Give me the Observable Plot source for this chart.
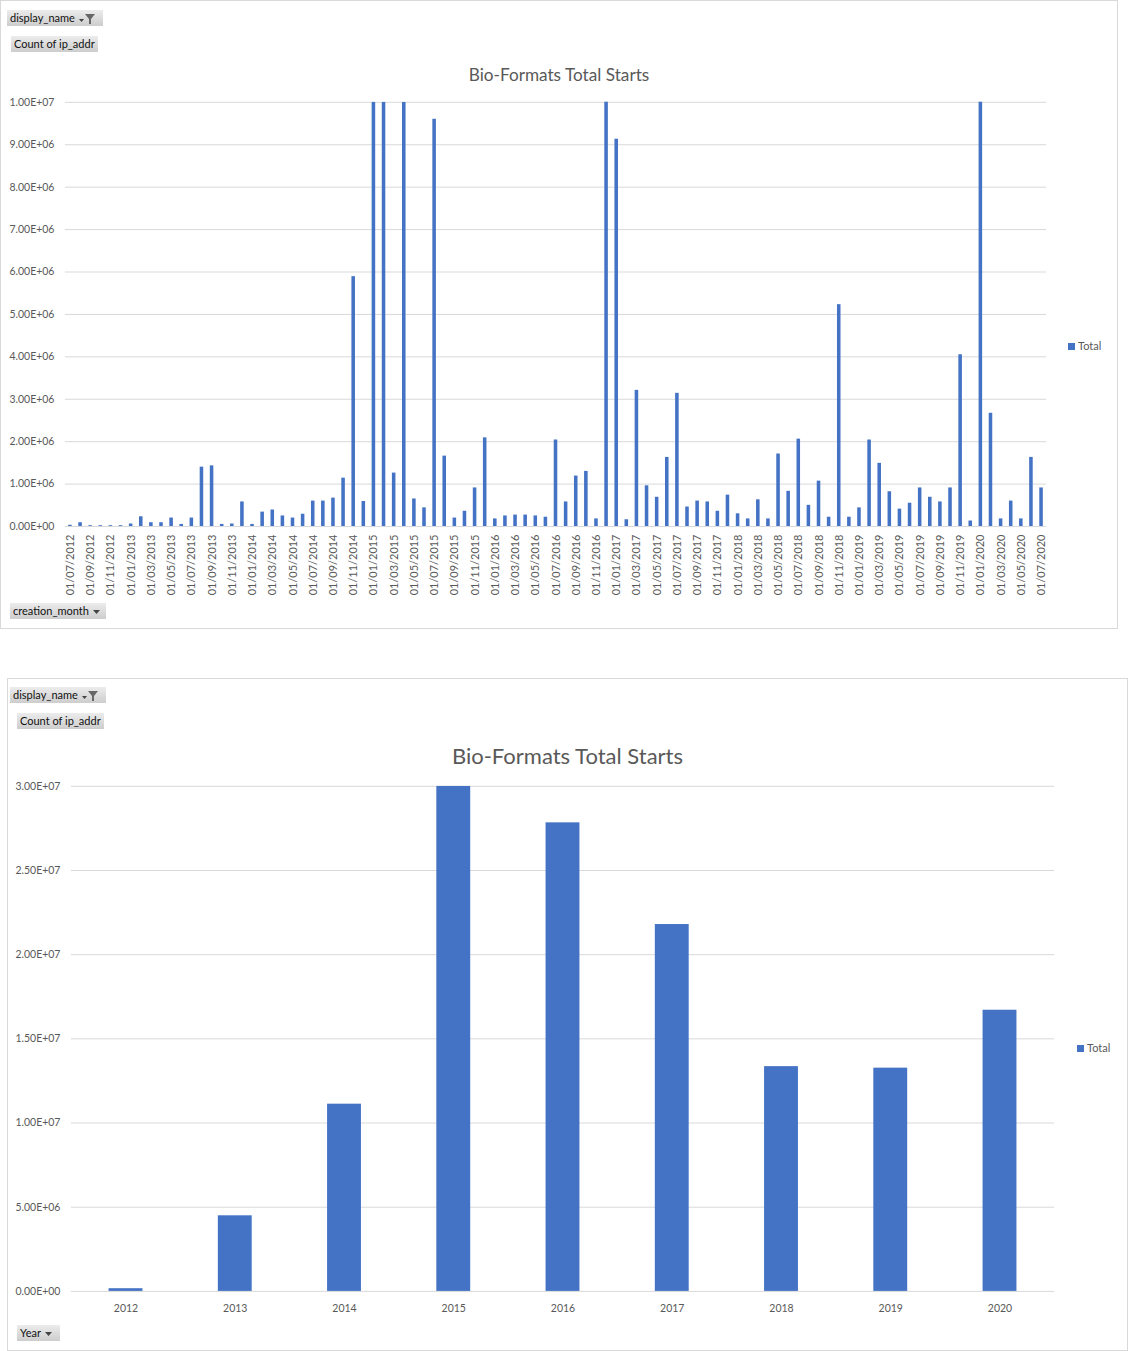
<!DOCTYPE html>
<html>
<head>
<meta charset="utf-8">
<script src="https://cdn.jsdelivr.net/npm/d3@7"></script>
<script src="https://cdn.jsdelivr.net/npm/@observablehq/plot@0.6"></script>
<style>
  html, body { margin: 0; padding: 0; background: #fff; }
  body { width: 1128px; height: 1351px; position: relative; font-family: Lato, "Liberation Sans", sans-serif; }
  .box { position: absolute; border: 1px solid #d9d9d9; box-sizing: border-box; background: #fff; }
  .box svg { position: absolute; left: -1px; top: -1px; }
  .btn { position: absolute; height: 16px; line-height: 16px; font-size: 11px; color: #111;
         background: linear-gradient(#ececec, #cdcdcd); padding: 0 3px; box-sizing: border-box; white-space: nowrap; }
  .btn svg { position: static !important; vertical-align: middle; }
  .title { position: absolute; left: 0; right: 0; text-align: center; color: #595959; }
  .legend { position: absolute; font-size: 11px; color: #595959; line-height: 12px; }
  .legend span.sw { display: inline-block; width: 7px; height: 7px; background: #4472C4; margin-right: 3px; vertical-align: 0px; }
</style>
</head>
<body>
<div id="top" class="box" style="left:0;top:0;width:1118px;height:629px;"></div>
<div id="bottom" class="box" style="left:7px;top:678px;width:1121px;height:673px;"></div>
<script>
// ---- Data ----
const seriesName = "Total";
const chartTitle = "Bio-Formats Total Starts";
const startYear = 2012, startMonth = 7, monthCount = 97;   // 01/07/2012 .. 01/07/2020

// monthly counts (millions); bars above 1.00E+07 are clipped in the picture
const m2012 = [0.03, 0.09, 0.02, 0.02, 0.02, 0.02];
const m2013 = [0.06, 0.23, 0.09, 0.09, 0.20, 0.05, 0.20, 1.40, 1.43, 0.05, 0.06, 0.58];
const m2014 = [0.05, 0.34, 0.39, 0.25, 0.20, 0.29, 0.60, 0.60, 0.67, 1.14, 5.89, 0.59];
const m2015 = [10.0, 10.0, 1.26, 10.0, 0.65, 0.44, 9.60, 1.66, 0.20, 0.36, 0.91, 2.09];
const m2016 = [0.18, 0.25, 0.27, 0.27, 0.25, 0.22, 2.04, 0.58, 1.19, 1.30, 0.18, 21.1];
const m2017 = [9.13, 0.16, 3.21, 0.96, 0.69, 1.63, 3.14, 0.46, 0.60, 0.58, 0.36, 0.74];
const m2018 = [0.30, 0.18, 0.63, 0.18, 1.71, 0.83, 2.06, 0.50, 1.07, 0.22, 5.23, 0.22];
const m2019 = [0.44, 2.04, 1.49, 0.82, 0.41, 0.55, 0.91, 0.69, 0.58, 0.91, 4.05, 0.13];
const m2020 = [10.4, 2.67, 0.18, 0.60, 0.18, 1.63, 0.91];

// yearly totals (millions); 2015 reaches the top of the axis
const years = ["2012", "2013", "2014", "2015", "2016", "2017", "2018", "2019", "2020"];
const yearTotals = [0.16, 4.49, 11.12, 30.0, 27.83, 21.79, 13.35, 13.26, 16.7];

// ---- Build tables ----
const monthValues = [].concat(m2012, m2013, m2014, m2015, m2016, m2017, m2018, m2019, m2020);
const monthLabels = [];
for (let i = 0; i < monthCount; i++) {
  const t = (startMonth - 1) + i;
  const y = startYear + Math.floor(t / 12), m = (t % 12) + 1;
  monthLabels.push("01/" + String(m).padStart(2, "0") + "/" + y);
}
const monthData = monthLabels.map((label, i) => ({label, value: monthValues[i] * 1e6}));
const yearData = years.map((year, i) => ({year, value: yearTotals[i] * 1e6}));

const fmtE = v => {
  const [m, e] = v.toExponential(2).split("e");
  const n = +e;
  return m.toUpperCase() + "E" + (n < 0 ? "-" : "+") + String(Math.abs(n)).padStart(2, "0");
};
const blue = "#4472C4", grid = "#d9d9d9", txt = "#595959";
const axisStyle = {fontFamily: "Lato, 'Liberation Sans', sans-serif", fontSize: "10.5px", color: txt, background: "transparent", overflow: "visible"};

// ---- Top chart: monthly ----
const yTicksTop = d3.range(0, 1e7 + 1, 1e6);
const topPlot = Plot.plot({
  width: 1118, height: 629,
  marginLeft: 65, marginRight: 70, marginTop: 102, marginBottom: 102,
  style: axisStyle,
  x: {domain: monthLabels, round: false, paddingInner: 0.65, paddingOuter: 0.325, label: null, tickSize: 0, tickRotate: -90,
      ticks: monthLabels.filter((d, i) => i % 2 === 0), tickPadding: 8},
  y: {domain: [0, 1e7], ticks: yTicksTop, tickFormat: fmtE, label: null, tickSize: 0, tickPadding: 11},
  marks: [
    Plot.gridY(yTicksTop, {stroke: grid, strokeOpacity: 1}),
    Plot.barY(monthData, {x: "label", y: "value", fill: blue, clip: true}),
    Plot.axisX({ticks: monthLabels.filter((d, i) => i % 2 === 0), tickSize: 0, tickRotate: -90, tickPadding: 8, fontSize: 11, label: null})
  ]
});
document.getElementById("top").appendChild(topPlot);

// ---- Bottom chart: yearly ----
const yTicksBot = d3.range(0, 3e7 + 1, 5e6);
const botPlot = Plot.plot({
  width: 1121, height: 673,
  marginLeft: 64, marginRight: 72, marginTop: 108, marginBottom: 59,
  style: axisStyle,
  x: {domain: years, round: false, paddingInner: 0.69, paddingOuter: 0.345, label: null, tickSize: 0, tickPadding: 13},
  y: {domain: [0, 3e7], ticks: yTicksBot, tickFormat: fmtE, label: null, tickSize: 0, tickPadding: 11},
  marks: [
    Plot.gridY(yTicksBot, {stroke: grid, strokeOpacity: 1}),
    Plot.barY(yearData, {x: "year", y: "value", fill: blue, clip: true})
  ]
});
document.getElementById("bottom").appendChild(botPlot);

// ---- Decorations: titles, legends, pivot buttons ----
const funnel = '<svg width="18" height="12" viewBox="0 0 18 12"><path d="M1 6 L6 6 L3.5 9 Z" fill="#444"/><path d="M7 1 L17 1 L13 6 L13 11 L11 11 L11 6 Z" fill="#666"/></svg>';
const arrow = '<svg width="9" height="10" viewBox="0 0 9 10"><path d="M1 3 L8 3 L4.5 7 Z" fill="#444"/></svg>';
function add(parentId, html) { const d = document.createElement("div"); d.innerHTML = html; const el = d.firstElementChild; document.getElementById(parentId).appendChild(el); return el; }

add("top", `<div class="title" style="top:63px;font-size:17.2px;">${chartTitle}</div>`);
add("top", `<div class="legend" style="left:1067px;top:339px;"><span class="sw"></span>${seriesName}</div>`);
add("top", `<div class="btn" style="left:6px;top:9px;width:96px;">display_name ${funnel}</div>`);
add("top", `<div class="btn" style="left:10px;top:35px;width:87px;">Count of ip_addr</div>`);
add("top", `<div class="btn" style="left:9px;top:602px;width:96px;">creation_month ${arrow}</div>`);

add("bottom", `<div class="title" style="top:63px;font-size:22px;">${chartTitle}</div>`);
add("bottom", `<div class="legend" style="left:1069px;top:363px;"><span class="sw"></span>${seriesName}</div>`);
add("bottom", `<div class="btn" style="left:2px;top:8px;width:96px;">display_name ${funnel}</div>`);
add("bottom", `<div class="btn" style="left:9px;top:34px;width:87px;">Count of ip_addr</div>`);
add("bottom", `<div class="btn" style="left:9px;top:646px;width:43px;">Year ${arrow}</div>`);
</script>
</body>
</html>
